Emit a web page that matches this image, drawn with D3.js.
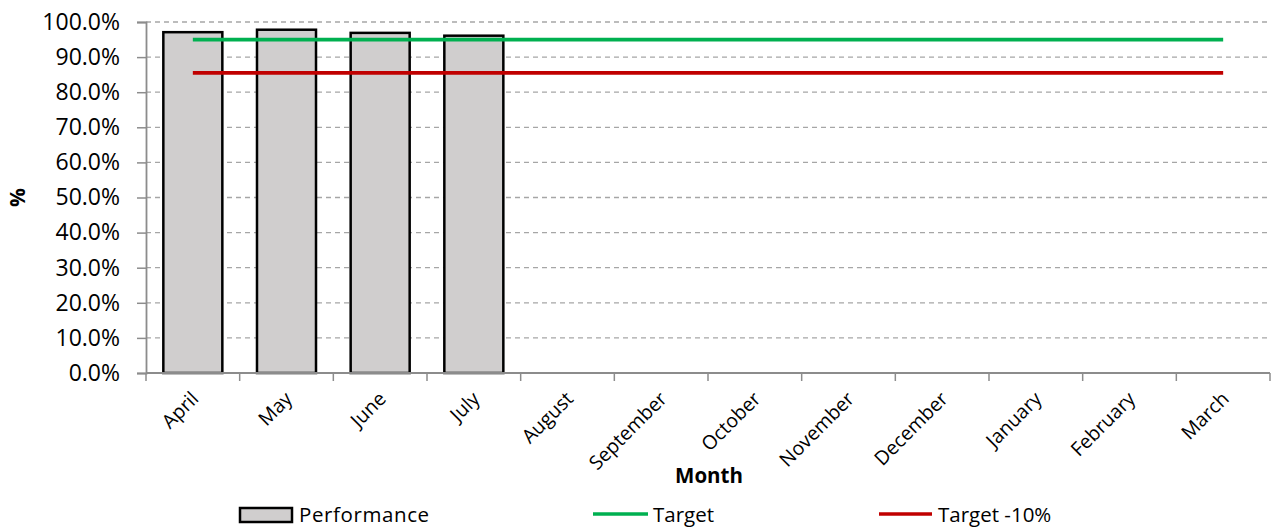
<!DOCTYPE html>
<html>
<head>
<meta charset="utf-8">
<script src="https://cdn.jsdelivr.net/npm/d3@7"></script>
<style>
  html, body { margin: 0; padding: 0; background: #fff; }
  svg { display: block; }
  text { font-family: "Open Sans", sans-serif; fill: #000; }
</style>
</head>
<body>
<svg id="chart" width="1279" height="527"></svg>
<script>
// Monthly performance against target
const months = ["April", "May", "June", "July", "August", "September",
                "October", "November", "December", "January", "February", "March"];
const performance = [0.971, 0.978, 0.969, 0.961, null, null, null, null, null, null, null, null];
const target = [0.95, 0.95, 0.95, 0.95, 0.95, 0.95, 0.95, 0.95, 0.95, 0.95, 0.95, 0.95];
const targetLess10 = [0.855, 0.855, 0.855, 0.855, 0.855, 0.855, 0.855, 0.855, 0.855, 0.855, 0.855, 0.855];
const yTicks = [0, 0.1, 0.2, 0.3, 0.4, 0.5, 0.6, 0.7, 0.8, 0.9, 1.0];
const legendLabels = ["Performance", "Target", "Target -10%"];

const svg = d3.select("#chart");
const margin = { left: 146, right: 9, top: 22, bottom: 154 };
const W = 1279, H = 527;
const plotW = W - margin.left - margin.right;
const plotH = H - margin.top - margin.bottom;

const g = svg.append("g").attr("transform", `translate(${margin.left},${margin.top})`);

const x = d3.scaleBand().domain(months).range([0, plotW]).paddingInner(0.37).paddingOuter(0.185);
const xc = d3.scaleBand().domain(months).range([0, plotW]);
const y = d3.scaleLinear().domain([0, 1]).range([plotH, 0]);

const axisGray = "#8c8c8c";

// dashed horizontal gridlines
g.append("g")
  .selectAll("line")
  .data(yTicks.filter(d => d > 0))
  .join("line")
  .attr("x1", 0).attr("x2", plotW)
  .attr("y1", d => y(d)).attr("y2", d => y(d))
  .attr("stroke", "#a6a6a6")
  .attr("stroke-width", 1.3)
  .attr("stroke-dasharray", "5,4");

// bars
g.append("g")
  .selectAll("rect")
  .data(months.map((m, i) => ({ m, v: performance[i] })).filter(d => d.v != null))
  .join("rect")
  .attr("x", d => x(d.m))
  .attr("width", x.bandwidth())
  .attr("y", d => y(d.v))
  .attr("height", d => plotH - y(d.v))
  .attr("fill", "#d0cece")
  .attr("stroke", "#000")
  .attr("stroke-width", 2.5);

// target lines
const line = d3.line()
  .x((d, i) => xc(months[i]) + xc.bandwidth() / 2)
  .y(d => y(d));

g.append("path").datum(target)
  .attr("d", line).attr("fill", "none")
  .attr("stroke", "#00b050").attr("stroke-width", 3.8);

g.append("path").datum(targetLess10)
  .attr("d", line).attr("fill", "none")
  .attr("stroke", "#c00000").attr("stroke-width", 3.8);

// y axis
const yAxis = g.append("g")
  .call(d3.axisLeft(y).tickValues(yTicks).tickFormat(d3.format(".1%")).tickSize(9).tickPadding(17));
yAxis.select(".domain").attr("stroke", axisGray).attr("stroke-width", 1.8);
yAxis.selectAll(".tick line").attr("stroke", axisGray).attr("stroke-width", 1.5);
yAxis.selectAll(".tick text")
  .style("font-size", "23px")
  .attr("fill", "#000");

// x axis: ticks on category boundaries, labels at category centres
const xAxisG = g.append("g").attr("transform", `translate(0,${plotH})`);
xAxisG.append("line")
  .attr("x1", 0).attr("x2", plotW)
  .attr("stroke", axisGray).attr("stroke-width", 1.8);
xAxisG.selectAll(".xtick")
  .data(months.concat(["__end"]))
  .join("line")
  .attr("class", "xtick")
  .attr("x1", (d, i) => i * xc.step()).attr("x2", (d, i) => i * xc.step())
  .attr("y1", 0).attr("y2", 8)
  .attr("stroke", axisGray).attr("stroke-width", 1.5);
xAxisG.selectAll(".xlabel")
  .data(months)
  .join("text")
  .attr("class", "xlabel")
  .attr("text-anchor", "end")
  .attr("transform", d => `translate(${xc(d) + xc.bandwidth() / 2 + 7},${27}) rotate(-45)`)
  .style("font-size", "19.5px")
  .text(d => d);

// axis titles
svg.append("text")
  .attr("transform", `translate(25,${margin.top + plotH / 2}) rotate(-90)`)
  .attr("text-anchor", "middle")
  .style("font-size", "21px")
  .style("font-weight", "bold")
  .text("%");

svg.append("text")
  .attr("x", margin.left + plotW / 2 + 1)
  .attr("y", 483)
  .attr("text-anchor", "middle")
  .style("font-size", "20.5px")
  .style("font-weight", "bold")
  .text("Month");

// legend
const legendFont = "20.5px";
const legend = svg.append("g");
const lg0 = legend.append("g").attr("transform", "translate(239,515)");
lg0.append("rect").attr("x", 1).attr("y", -7).attr("width", 52).attr("height", 14)
  .attr("fill", "#d0cece").attr("stroke", "#000").attr("stroke-width", 2.5);
lg0.append("text").attr("x", 60).attr("y", 7).style("font-size", legendFont)
  .style("letter-spacing", "0.6px").text(legendLabels[0]);

const lg1 = legend.append("g").attr("transform", "translate(593,514)");
lg1.append("line").attr("x1", 0).attr("x2", 55).attr("stroke", "#00b050").attr("stroke-width", 3.6);
lg1.append("text").attr("x", 60).attr("y", 8).style("font-size", legendFont).text(legendLabels[1]);

const lg2 = legend.append("g").attr("transform", "translate(879,514)");
lg2.append("line").attr("x1", 0).attr("x2", 53).attr("stroke", "#c00000").attr("stroke-width", 3.6);
lg2.append("text").attr("x", 59).attr("y", 8).style("font-size", legendFont).text(legendLabels[2]);
</script>
</body>
</html>
